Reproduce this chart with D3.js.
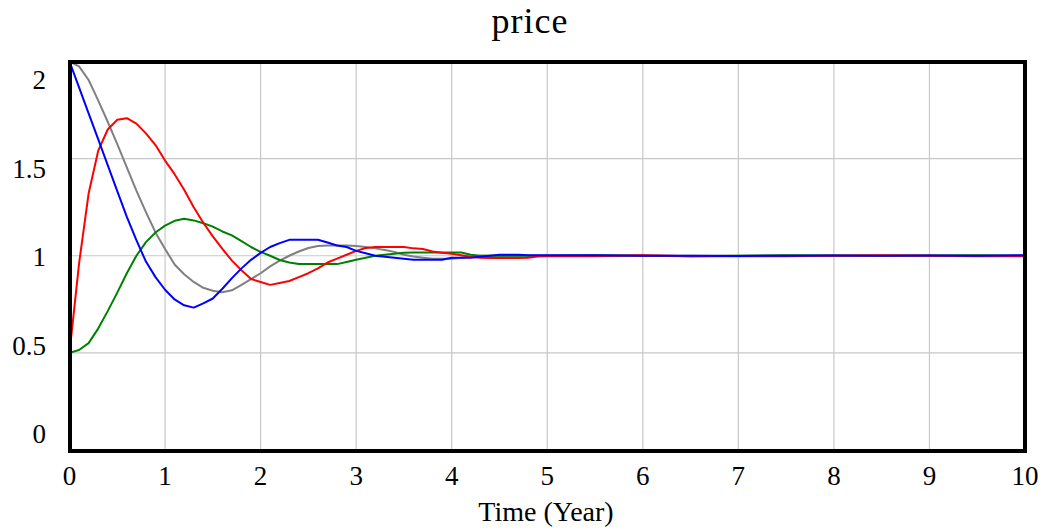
<!DOCTYPE html>
<html><head><meta charset="utf-8">
<script src="https://cdn.jsdelivr.net/npm/d3@7"></script>
<style>body{margin:0;background:#fff}svg{display:block}text{font-family:"Liberation Serif","Times New Roman",serif;fill:#000}</style>
</head><body><svg id="c" width="1042" height="531"></svg>
<script>
const title = "price";
const xLabel = "Time (Year)";
const xTicks = [0,1,2,3,4,5,6,7,8,9,10];
const yTicks = [0,0.5,1,1.5,2];
const yTickLabels = ["0","0.5","1","1.5","2"];
const time = [0,0.1,0.2,0.3,0.4,0.5,0.6,0.7,0.8,0.9,1.0,1.1,1.2,1.3,1.4,1.5,1.6,1.7,1.8,1.9,2.0,2.1,2.2,2.3,2.4,2.5,2.6,2.7,2.8,2.9,3.0,3.1,3.2,3.3,3.4,3.5,3.6,3.7,3.8,3.9,4.0,4.1,4.2,4.3,4.4,4.5,4.6,4.7,4.8,4.9,5.0,5.5,6,6.5,7,7.5,8,8.5,9,9.5,10];
const grayValues = [2.0,1.975,1.905,1.80,1.69,1.575,1.455,1.335,1.225,1.12,1.035,0.955,0.905,0.865,0.835,0.82,0.812,0.822,0.85,0.88,0.91,0.945,0.975,1.0,1.022,1.04,1.05,1.053,1.053,1.053,1.05,1.045,1.038,1.03,1.02,1.005,0.996,0.99,0.985,0.985,0.985,0.99,0.995,1.0,1.0,1.0,1.0,1.0,1.0,1.0,1.0,1.0,1.0,1.0,1.0,1.0,1.0,1.0,1.0,1.0,1.0];
const greenValues = [0.5,0.515,0.55,0.625,0.715,0.81,0.91,1.0,1.07,1.12,1.155,1.18,1.19,1.182,1.167,1.15,1.125,1.105,1.075,1.045,1.02,1.0,0.978,0.965,0.957,0.957,0.957,0.957,0.957,0.968,0.979,0.99,1.0,1.005,1.01,1.015,1.017,1.017,1.017,1.017,1.017,1.017,1.005,1.0,1.0,1.0,1.0,1.0,1.0,1.0,1.0,1.002,1.0,0.998,1.0,1.002,1.001,1.0,1.001,1.002,1.0];
const redValues = [0.5,0.96,1.32,1.54,1.65,1.70,1.708,1.68,1.63,1.57,1.49,1.42,1.34,1.25,1.17,1.10,1.035,0.975,0.925,0.88,0.865,0.85,0.86,0.87,0.89,0.91,0.935,0.965,0.985,1.005,1.025,1.04,1.045,1.045,1.045,1.045,1.038,1.035,1.022,1.015,1.01,1.002,0.995,0.99,0.988,0.988,0.988,0.988,0.99,0.996,0.998,0.997,1.002,0.998,0.997,0.998,1.0,1.002,1.0,0.998,0.997];
const blueValues = [2.0,1.867,1.733,1.60,1.467,1.333,1.20,1.08,0.97,0.89,0.825,0.775,0.745,0.733,0.755,0.78,0.83,0.885,0.935,0.979,1.015,1.045,1.065,1.082,1.082,1.082,1.082,1.068,1.053,1.045,1.025,1.013,1.0,0.995,0.99,0.985,0.979,0.979,0.979,0.979,0.99,0.99,0.99,0.995,1.0,1.005,1.005,1.005,1.003,1.002,1.002,1.002,1.0,1.0,0.999,1.0,1.001,1.0,1.001,1.0,1.003];

const series = [
  {values: grayValues, color: "#808080"},
  {values: greenValues, color: "#008000"},
  {values: redValues, color: "#ff0000"},
  {values: blueValues, color: "#0000ff"}
];

const svg = d3.select("#c");
const L = 70, R = 1025, T = 62, B = 451;
const x = d3.scaleLinear().domain([0,10]).range([69.5,1025]);
const y = d3.scaleLinear().domain([0,2]).range([450,61.5]);
const yLab = d3.scaleLinear().domain([0,2]).range([443,89]);

// grid
svg.append("g").selectAll("line").data(xTicks.filter(d=>d>0&&d<10)).join("line")
  .attr("x1",d=>x(d)).attr("x2",d=>x(d)).attr("y1",T).attr("y2",B)
  .attr("stroke","#c8c8c8").attr("stroke-width",1.2);
svg.append("g").selectAll("line").data(yTicks.filter(d=>d>0&&d<2)).join("line")
  .attr("x1",L).attr("x2",R).attr("y1",d=>y(d)).attr("y2",d=>y(d))
  .attr("stroke","#c8c8c8").attr("stroke-width",1.2);

// lines
const line = d3.line().x((d,i)=>x(time[i])).y(d=>y(d));
svg.append("g").selectAll("path").data(series).join("path")
  .attr("d",d=>line(d.values)).attr("fill","none")
  .attr("stroke",d=>d.color).attr("stroke-width",2).attr("stroke-linejoin","round");

// frame
svg.append("rect").attr("x",L).attr("y",T).attr("width",R-L).attr("height",B-T)
  .attr("fill","none").attr("stroke","#000").attr("stroke-width",4);

// x tick labels
svg.append("g").selectAll("text").data(xTicks).join("text")
  .attr("x",d=>x(d)).attr("y",485).attr("text-anchor","middle")
  .attr("font-size",27).text(d=>d);
// y tick labels
svg.append("g").selectAll("text").data(yTicks).join("text")
  .attr("x",46).attr("y",d=>yLab(d)).attr("text-anchor","end")
  .attr("font-size",27).text((d,i)=>yTickLabels[i]);

svg.append("text").attr("x",546).attr("y",521).attr("text-anchor","middle")
  .attr("font-size",28).text(xLabel);
svg.append("text").attr("x",530).attr("y",33).attr("text-anchor","middle")
  .attr("font-size",36).attr("letter-spacing",1).text(title);
</script></body></html>
